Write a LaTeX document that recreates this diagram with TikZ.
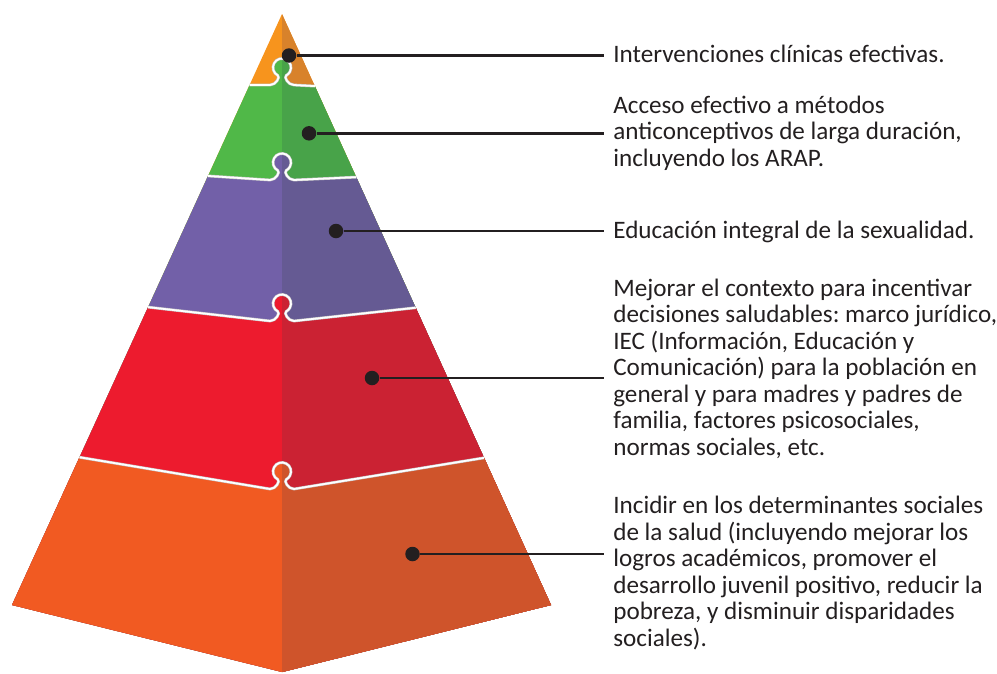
\documentclass[tikz,border=0pt]{standalone}
\usepackage{fontspec}
\setmainfont{Carlito}
\usepackage{color}
\usepackage{tikz}
\usetikzlibrary{calc}
\frenchspacing

\definecolor{ink}{HTML}{231F20}
\definecolor{tipL}{HTML}{F7941D}
\definecolor{tipR}{HTML}{D8822B}
\definecolor{greenL}{HTML}{50B848}
\definecolor{greenR}{HTML}{48A349}
\definecolor{violetL}{HTML}{7260A8}
\definecolor{violetR}{HTML}{655A93}
\definecolor{redL}{HTML}{ED1B2E}
\definecolor{redR}{HTML}{CB2233}
\definecolor{baseL}{HTML}{F15A22}
\definecolor{baseR}{HTML}{CF542B}

% puzzle knob on the centre line, #1 = y of its foot
\newcommand\knob[1]{(270,#1) .. controls (276,#1) and (280.43,#1-8.14) .. (277.78,#1-9.55)
  arc[start angle=118,end angle=422,radius=9]
  .. controls (283.57,#1-8.14) and (288,#1) .. (294,#1)}
% one slab: #1 upper border, #2 left face, #3 right face
\newcommand\slab[3]{%
  \fill[#2] #1 -- (br) -- (bc) -- (bl) -- cycle;
  \begin{scope}
    \clip (282,0) rectangle (560,680);
    \fill[#3] #1 -- (br) -- (bc) -- (bl) -- cycle;
  \end{scope}}

\begin{document}
\begin{tikzpicture}[x=0.02cm,y=-0.02cm,
	dot/.style={circle,fill=ink,inner sep=0pt,minimum size=0.29cm},
	lead/.style={-,line width=1.6pt,ink},
	seam/.style={draw=black!22,double=white,double distance=1pt,line width=0.3pt},
	note/.style={anchor=base west,align=left,inner xsep=0.18cm,inner ysep=0pt,
		text=ink,font=\fontsize{14.3pt}{15.1pt}\selectfont}
]
	\useasboundingbox (0,0) rectangle (997,673);

	\coordinate (apex) at (282,14);
	\coordinate (bl) at (12,605);
	\coordinate (br) at (551,605);
	\coordinate (bc) at (282,672);

	\coordinate (l1) at ($(apex)!0.12!(bl)$);
	\coordinate (r1) at ($(apex)!0.122!(br)$);
	\coordinate (l2) at ($(apex)!0.274!(bl)$);
	\coordinate (r2) at ($(apex)!0.276!(br)$);
	\coordinate (l3) at ($(apex)!0.496!(bl)$);
	\coordinate (r3) at ($(apex)!0.497!(br)$);
	\coordinate (l4) at ($(apex)!0.75!(bl)$);
	\coordinate (r4) at ($(apex)!0.751!(br)$);

	\slab{(apex)}{tipL}{tipR}
	\slab{(l1) -- \knob{85} -- (r1)}{greenL}{greenR}
	\slab{(l2) -- \knob{180} -- (r2)}{violetL}{violetR}
	\slab{(l3) -- \knob{321} -- (r3)}{redL}{redR}
	\slab{(l4) -- \knob{489} -- (r4)}{baseL}{baseR}

	\draw[seam] (l1) -- \knob{85} -- (r1);
	\draw[seam] (l2) -- \knob{180} -- (r2);
	\draw[seam] (l3) -- \knob{321} -- (r3);
	\draw[seam] (l4) -- \knob{489} -- (r4);

	\node[dot] at (289,55.5) (d1) {};
	\node[dot] at (309,133.3) (d2) {};
	\node[dot] at (336,231) (d3) {};
	\node[dot] at (372,378) (d4) {};
	\node[dot] at (412.5,554) (d5) {};

	% base anchor = baseline of the last line
	\node[note] at (604,62.3) (t1) {Intervenciones clínicas efectivas.};
	\node[note] at (604,166.5) (t2) {Acceso efectivo a métodos\\anticonceptivos de larga duración,\\incluyendo los ARAP.};
	\node[note] at (604,238.5) (t3) {Educación integral de la sexualidad.};
	\node[note] at (604,455.5) (t4) {Mejorar el contexto para incentivar\\decisiones saludables: marco jurídico,\\IEC (Información, Educación y\\Comunicación) para la población en\\general y para madres y padres de\\familia, factores psicosociales,\\normas sociales, etc.};
	\node[note] at (604,646.5) (t5) {Incidir en los determinantes sociales\\de la salud (incluyendo mejorar los\\logros académicos, promover el\\desarrollo juvenil positivo, reducir la\\pobreza, y disminuir disparidades\\sociales).};

	\draw[lead] (d1) -- (d1 -| t1.west);
	\draw[lead] (d2) -- (d2 -| t2.west);
	\draw[lead] (d3) -- (d3 -| t3.west);
	\draw[lead] (d4) -- (d4 -| t4.west);
	\draw[lead] (d5) -- (d5 -| t5.west);
\end{tikzpicture}
\end{document}
